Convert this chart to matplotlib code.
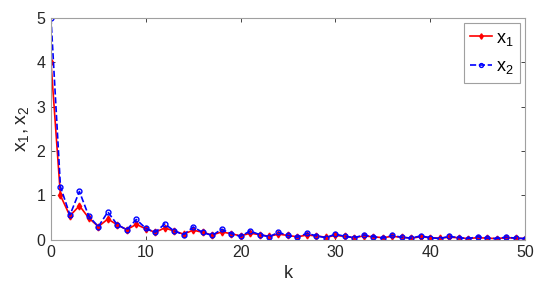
import numpy as np
import matplotlib
matplotlib.use("Agg")
import matplotlib.pyplot as plt

plt.rcParams['font.family'] = ['Liberation Sans', 'DejaVu Sans']
plt.rcParams['mathtext.fontset'] = 'custom'
plt.rcParams['mathtext.rm'] = 'Liberation Sans'

k = np.arange(0, 51)
x1 = [4.0, 1.0, 0.54, 0.77, 0.49, 0.30, 0.47, 0.34, 0.23, 0.35,
      0.25, 0.17, 0.27, 0.20, 0.13, 0.22, 0.17, 0.11, 0.18, 0.14,
      0.09, 0.15, 0.12, 0.08, 0.13, 0.10, 0.07, 0.11, 0.09, 0.06,
      0.10, 0.08, 0.05, 0.09, 0.07, 0.05, 0.08, 0.06, 0.04, 0.07,
      0.05, 0.04, 0.06, 0.05, 0.03, 0.05, 0.04, 0.03, 0.05, 0.04, 0.03]
x2 = [5.0, 1.2, 0.56, 1.09, 0.53, 0.30, 0.63, 0.34, 0.23, 0.46,
      0.26, 0.17, 0.36, 0.20, 0.12, 0.29, 0.17, 0.10, 0.24, 0.14,
      0.08, 0.20, 0.12, 0.07, 0.17, 0.10, 0.06, 0.15, 0.09, 0.05,
      0.13, 0.08, 0.05, 0.11, 0.07, 0.04, 0.10, 0.06, 0.04, 0.09,
      0.05, 0.03, 0.08, 0.05, 0.03, 0.07, 0.04, 0.03, 0.06, 0.04, 0.03]

fig = plt.figure(figsize=(5.48, 2.88), dpi=100)
ax = fig.add_axes([0.093, 0.167, 0.865, 0.771])

ax.plot(k, x1, '-', color='red', lw=1.2, marker='d', ms=3.5, mfc='red', mec='red', label='$\\mathregular{x_1}$')
ax.plot(k, x2, '--', color='blue', lw=1.2, marker='o', ms=3.5, mfc='none', mec='blue', mew=1.0, label='$\\mathregular{x_2}$')

ax.set_xlim(0, 50)
ax.set_ylim(0, 5)
ax.set_xticks(np.arange(0, 51, 10))
ax.set_yticks(np.arange(0, 6, 1))
ax.tick_params(direction='in', length=3, width=0.6, colors='#262626', labelsize=11.5,
               top=True, right=True, pad=4)
for s in ax.spines.values():
    s.set_color('#a0a0a0')
    s.set_linewidth(0.8)
ax.set_xlabel('k', fontsize=13, color='#262626', labelpad=3)
ax.set_ylabel('$\\mathregular{x_1,x_2}$', fontsize=14, color='#262626', labelpad=4)

leg = ax.legend(loc='upper right', fontsize=13, fancybox=False, framealpha=1,
                edgecolor='#a0a0a0', handlelength=1.2, handletextpad=0.2,
                borderpad=0.35, labelspacing=0.6, borderaxespad=0.3, markerscale=0.8)
leg.get_frame().set_linewidth(0.8)

fig.savefig('out.png', dpi=100)
